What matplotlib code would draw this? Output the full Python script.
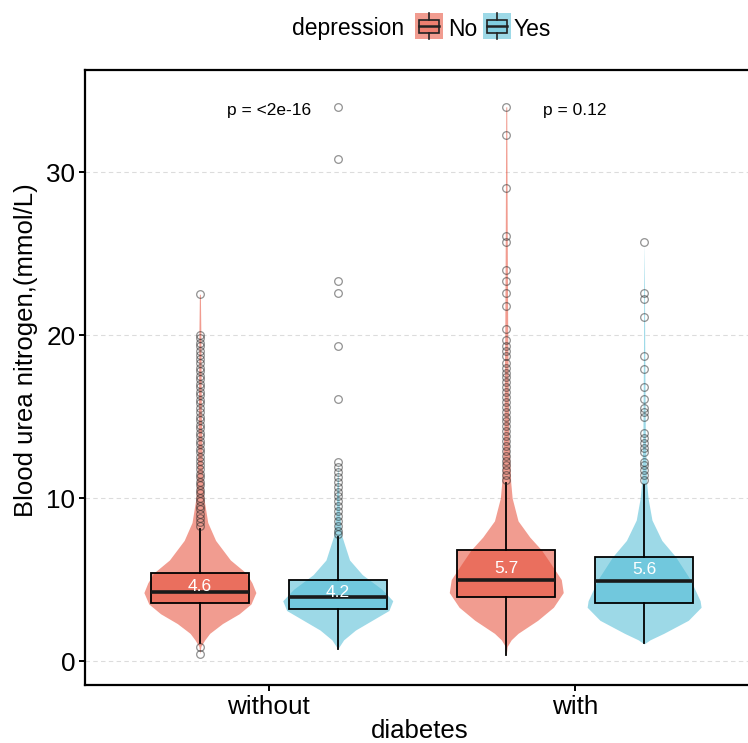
import numpy as np
import matplotlib
matplotlib.use("Agg")
import matplotlib.pyplot as plt
from matplotlib.patches import Rectangle
from matplotlib.lines import Line2D

plt.rcParams['font.family'] = ['Liberation Sans', 'DejaVu Sans']

# ---------------- data ----------------
diabetes = ["without", "with"]
depression = ["No", "Yes"]
colors = {"No": "#E64B35", "Yes": "#4DBBD5"}

# box statistics (q1, median, q3, whisker low, whisker high, mean)
q1 = {("without", "No"): 3.56, ("without", "Yes"): 3.19, ("with", "No"): 3.93, ("with", "Yes"): 3.56}
med = {("without", "No"): 4.23, ("without", "Yes"): 3.93, ("with", "No"): 4.97, ("with", "Yes"): 4.90}
q3 = {("without", "No"): 5.40, ("without", "Yes"): 4.97, ("with", "No"): 6.81, ("with", "Yes"): 6.38}
wlo = {("without", "No"): 1.10, ("without", "Yes"): 0.75, ("with", "No"): 0.40, ("with", "Yes"): 1.10}
whi = {("without", "No"): 8.10, ("without", "Yes"): 7.60, ("with", "No"): 10.9, ("with", "Yes"): 10.8}
means = {("without", "No"): 4.6, ("without", "Yes"): 4.2, ("with", "No"): 5.7, ("with", "Yes"): 5.6}

fliers = {
    ("without", "No"): [0.45, 0.85, 8.3, 8.5, 8.8, 9.0, 9.3, 9.5, 9.8, 10.0, 10.3, 10.5, 10.8, 11.0,
                        11.3, 11.5, 11.8, 12.0, 12.3, 12.5, 12.8, 13.0, 13.3, 13.5, 13.8, 14.0, 14.3,
                        14.5, 14.8, 15.0, 15.3, 15.5, 15.8, 16.0, 16.3, 16.5, 16.8, 17.0, 17.3, 17.5,
                        17.8, 18.0, 18.3, 18.5, 18.8, 19.0, 19.3, 19.5, 19.8, 20.0, 22.5],
    ("without", "Yes"): [7.8, 8.0, 8.3, 8.6, 8.9, 9.2, 9.5, 9.8, 10.1, 10.4, 10.7, 11.0, 11.3, 11.6,
                         11.9, 12.2, 16.1, 19.3, 22.6, 23.3, 30.8, 34.0],
    ("with", "No"): [11.1, 11.4, 11.7, 12.0, 12.3, 12.6, 12.9, 13.2, 13.5, 13.8, 14.1, 14.4, 14.7,
                     15.0, 15.3, 15.6, 15.9, 16.2, 16.5, 16.8, 17.1, 17.4, 17.7, 18.0, 18.3, 18.7,
                     19.0, 19.3, 19.7, 20.4, 21.8, 22.6, 23.3, 24.0, 25.7, 26.1, 29.0, 32.3, 34.0],
    ("with", "Yes"): [11.1, 11.4, 11.7, 12.0, 12.2, 12.8, 13.1, 13.4, 13.7, 14.0, 15.0, 15.3, 15.5,
                      16.1, 16.8, 17.9, 18.7, 21.1, 22.2, 22.6, 25.7],
}

# violin profiles: value levels and relative half-widths
vio_y = {
    ("without", "No"): [0.45, 0.9, 1.3, 1.7, 2.3, 2.9, 3.5, 4.2, 4.8, 5.4, 6.2, 7.4, 8.5, 10, 12, 15, 20, 22.5],
    ("without", "Yes"): [0.75, 1.3, 1.9, 2.5, 3.1, 3.7, 4.4, 5.3, 6.2, 7.7, 9, 10.5, 12.2],
    ("with", "No"): [0.4, 0.9, 1.3, 1.7, 2.5, 3.3, 4.2, 5.0, 6.0, 6.8, 7.6, 8.6, 10, 11, 14, 20, 26, 34],
    ("with", "Yes"): [1.05, 1.3, 1.7, 2.5, 3.3, 3.7, 5.0, 6.4, 7.4, 8.65, 10, 11, 14, 19.5, 21, 23, 25.7],
}
vio_w = {
    ("without", "No"): [0, 1, 5, 10, 23, 40, 52, 57, 53, 47, 31, 16, 8, 4, 2.5, 1.5, 1, 0.5],
    ("without", "Yes"): [0, 6, 18, 35, 52, 56, 45, 25, 12, 4, 2, 1, 0],
    ("with", "No"): [0, 1, 5, 12, 32, 48, 58, 56, 45, 36, 24, 12, 6, 4.5, 2.5, 1.5, 1, 0.5],
    ("with", "Yes"): [0, 6, 20, 45, 58, 57, 47, 32, 18, 8, 4, 2.5, 1.2, 0.6, 0.5, 0.4, 0],
}

pvalues = ["p = <2e-16", "p = 0.12"]

# ---------------- figure ----------------
W, H = 748, 743
fig = plt.figure(figsize=(W / 100, H / 100), dpi=100)
ax_l, ax_r, ax_t, ax_b = 85, 759, 70, 685
ax = fig.add_axes([ax_l / W, 1 - ax_b / H, (ax_r - ax_l) / W, (ax_b - ax_t) / H])

dodge = 0.225
box_w = 0.32
vio_scale = 0.186 / 58.0
alpha = 0.55

for i, d in enumerate(diabetes):
    for j, dep in enumerate(depression):
        key = (d, dep)
        x = (i + 1) + (-dodge if j == 0 else dodge)
        col = colors[dep]
        yv = np.array(vio_y[key])
        wv = np.array(vio_w[key]) * vio_scale
        ax.fill_betweenx(yv, x - wv, x + wv, color=col, alpha=alpha, lw=0, zorder=2)
        stats = [dict(q1=q1[key], med=med[key], q3=q3[key], whislo=wlo[key], whishi=whi[key],
                      fliers=fliers[key])]
        ax.bxp(stats, positions=[x], widths=box_w, patch_artist=True, showcaps=False,
               boxprops=dict(facecolor=matplotlib.colors.to_rgba(col, alpha), edgecolor='black', lw=1.3),
               medianprops=dict(color='#1a1a1a', lw=2.6),
               whiskerprops=dict(color='black', lw=1.3),
               flierprops=dict(marker='o', markerfacecolor='none', markeredgecolor=(0.15, 0.15, 0.15, 0.5),
                               markersize=5.5, markeredgewidth=0.9),
               zorder=3, manage_ticks=False)
        ax.text(x, means[key], f"{means[key]:.1f}", color='white', ha='center', va='center',
                fontsize=12.5, zorder=5)
    ax.text(i + 1, 33.8, pvalues[i], ha='center', va='center', fontsize=12.5, color='black', zorder=5)

ax.set_xlim(0.4, 2.6)
ax.set_ylim(-1.47, 36.26)
ax.set_xticks([1, 2])
ax.set_xticklabels(diabetes)
ax.set_yticks([0, 10, 20, 30])
ax.yaxis.grid(True, linestyle=(0, (4, 3)), color='#dcdcdc', lw=0.8, zorder=0)
ax.set_axisbelow(True)
for s in ax.spines.values():
    s.set_linewidth(1.6)
    s.set_color('black')
ax.tick_params(axis='both', length=4, width=1.4, labelsize=18.8, colors='black', pad=3)
ax.set_xlabel("diabetes", fontsize=18.5, va='center')
ax.xaxis.set_label_coords((420 - ax_l) / (ax_r - ax_l), (ax_b - 731) / (ax_b - ax_t))
ax.set_ylabel("Blood urea nitrogen,(mmol/L)", fontsize=18.5, va='center')
ax.yaxis.set_label_coords((26 - ax_l) / (ax_r - ax_l), (ax_b - 350) / (ax_b - ax_t))

# ---------------- legend ----------------
def fx(px):
    return px / W

def fy(py):
    return 1 - py / H

fig.text(fx(292), fy(29), "depression", fontsize=16.5, ha='left', va='center')
keys = [("No", 415, 448), ("Yes", 483, 514)]
for dep, kx, tx in keys:
    col = colors[dep]
    kw, kh = 28, 26
    ky = 13
    fig.patches.append(Rectangle((fx(kx), fy(ky + kh)), kw / W, kh / H, transform=fig.transFigure,
                                 facecolor=col, alpha=alpha, lw=0))
    bx0, bx1 = kx + 0.15 * kw, kx + 0.85 * kw
    by0, by1 = ky + 0.25 * kh, ky + 0.75 * kh
    fig.patches.append(Rectangle((fx(bx0), fy(by1)), (bx1 - bx0) / W, (by1 - by0) / H,
                                 transform=fig.transFigure, facecolor=matplotlib.colors.to_rgba(col, 0.35),
                                 edgecolor='#222222', lw=1.2))
    cx = kx + kw / 2
    fig.lines.append(Line2D([fx(bx0), fx(bx1)], [fy(ky + kh / 2)] * 2, transform=fig.transFigure,
                            color='#222222', lw=1.8))
    fig.lines.append(Line2D([fx(cx)] * 2, [fy(ky), fy(by0)], transform=fig.transFigure, color='#222222', lw=1.2))
    fig.lines.append(Line2D([fx(cx)] * 2, [fy(by1), fy(ky + kh)], transform=fig.transFigure, color='#222222', lw=1.2))
    fig.text(fx(tx), fy(29), dep, fontsize=16.5, ha='left', va='center')

fig.savefig("out.png", dpi=100)
